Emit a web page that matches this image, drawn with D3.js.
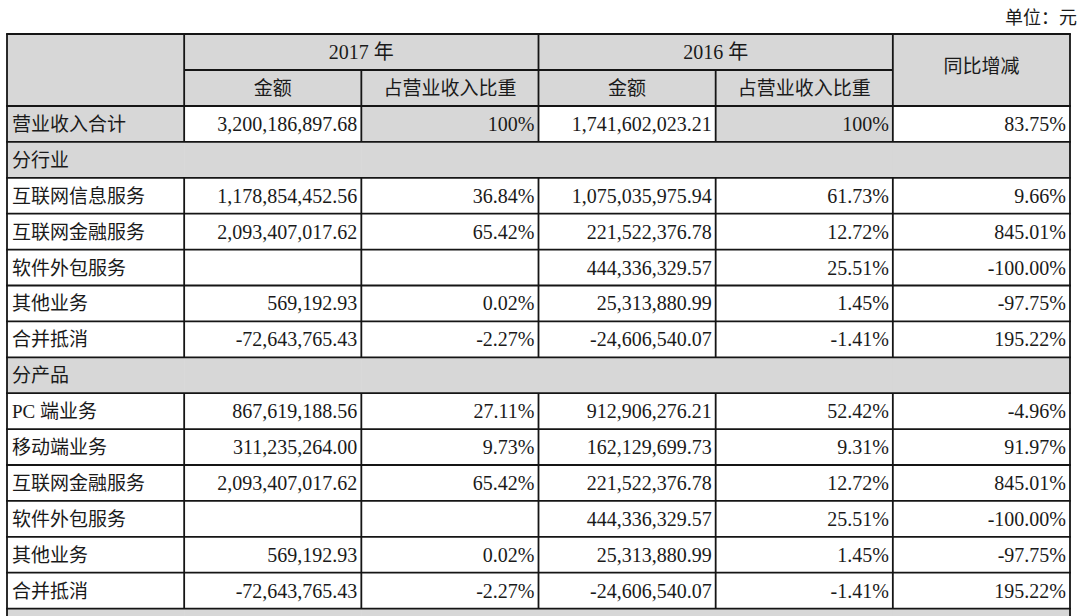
<!DOCTYPE html>
<html><head><meta charset="utf-8">
<script src="https://cdn.jsdelivr.net/npm/d3@7"></script>
<style>
html,body{margin:0;padding:0;background:#fff;}
svg{display:block;}
text{fill:#1a1a1a;}
</style></head>
<body>
<svg id="c" width="1080" height="616"></svg>
<script>
// ---- data ----
const unitLabel = "单位：元";
const yearLabels = ["2017 年", "2016 年"];
const subHeaders = ["金额", "占营业收入比重"];
const yoyHeader = "同比增减";
// row type: total / section / item / tail
const rowLabels = ["营业收入合计","分行业","互联网信息服务","互联网金融服务","软件外包服务","其他业务","合并抵消","分产品","PC 端业务","移动端业务","互联网金融服务","软件外包服务","其他业务","合并抵消",""];
const rowTypes  = ["total","section","item","item","item","item","item","section","item","item","item","item","item","item","tail"];
const amount2017 = [3200186897.68,null,1178854452.56,2093407017.62,null,569192.93,-72643765.43,null,867619188.56,311235264.00,2093407017.62,null,569192.93,-72643765.43,null];
const share2017  = [100,null,36.84,65.42,null,0.02,-2.27,null,27.11,9.73,65.42,null,0.02,-2.27,null];
const amount2016 = [1741602023.21,null,1075035975.94,221522376.78,444336329.57,25313880.99,-24606540.07,null,912906276.21,162129699.73,221522376.78,444336329.57,25313880.99,-24606540.07,null];
const share2016  = [100,null,61.73,12.72,25.51,1.45,-1.41,null,52.42,9.31,12.72,25.51,1.45,-1.41,null];
const yoyChange  = [83.75,null,9.66,845.01,-100.00,-97.75,195.22,null,-4.96,91.97,845.01,-100.00,-97.75,195.22,null];

// ---- formatting ----
const loc = d3.formatLocale({decimal:".", thousands:",", grouping:[3], currency:["",""], minus:"-"});
const fAmt = loc.format(",.2f");
const fPct2 = loc.format(".2f");
const fShare = v => v === 100 ? "100%" : fPct2(v) + "%";
const fYoy = v => fPct2(v) + "%";

// ---- layout ----
const svg = d3.select("#c");
const GRAY = "#d7d7d7", LINE = "#151515", LW = 1.8;
const SERIF = "'Liberation Serif','Times New Roman','Noto Sans CJK SC',serif";
const cols = d3.range(6);
const x = d3.scaleBand().domain(cols).range([7, 1070]);
const headerTop = 34, headerRowH = 36;
const bodyTop = headerTop + 2 * headerRowH;
const y = d3.scaleBand().domain(d3.range(rowLabels.length)).range([bodyTop, bodyTop + rowLabels.length * 35.9]);
const left = x(0), right = x(5) + x.bandwidth();

const gFill = svg.append("g");
const gLine = svg.append("g");
const gText = svg.append("g").attr("font-family", SERIF);

// header fill
gFill.append("rect").attr("x", left).attr("y", headerTop).attr("width", right - left).attr("height", 2 * headerRowH).attr("fill", GRAY);

// body fills
const cellValues = [null, amount2017, share2017, amount2016, share2016, yoyChange];
rowLabels.forEach((lab, i) => {
  const t = rowTypes[i];
  cols.forEach(c => {
    let fill = "#fff";
    if (t === "section" || t === "tail") fill = GRAY;
    else if (t === "total") fill = (c === 0 || c === 2 || c === 4) ? GRAY : "#fff";
    gFill.append("rect").attr("x", x(c)).attr("y", y(i)).attr("width", x.bandwidth() + 0.5).attr("height", y.bandwidth() + 0.5).attr("fill", fill);
  });
});

function hline(x1, x2, yy) { gLine.append("line").attr("x1", x1).attr("x2", x2).attr("y1", yy).attr("y2", yy).attr("stroke", LINE).attr("stroke-width", LW); }
function vline(xx, y1, y2) { gLine.append("line").attr("x1", xx).attr("x2", xx).attr("y1", y1).attr("y2", y2).attr("stroke", LINE).attr("stroke-width", LW); }

// header lines
hline(left - LW/2, right + LW/2, headerTop);
hline(x(1), x(5), headerTop + headerRowH);
vline(x(1), headerTop, bodyTop);
vline(x(3), headerTop, bodyTop);
vline(x(5), headerTop, bodyTop);
vline(x(2), headerTop + headerRowH, bodyTop);
vline(x(4), headerTop + headerRowH, bodyTop);

// body lines
const lastIdx = rowLabels.length - 1;
rowLabels.forEach((lab, i) => {
  hline(left - LW/2, right + LW/2, y(i));
  const t = rowTypes[i];
  if (t === "total" || t === "item") {
    cols.slice(1).forEach(c => vline(x(c), y(i), y(i) + y.bandwidth()));
  }
});
vline(left, headerTop, 616);
vline(right, headerTop, 616);

// unit label
gText.append("text").attr("x", 1077).attr("y", 24).attr("text-anchor", "end").attr("font-size", 18).text(unitLabel);

// header text
const midY1 = headerTop + headerRowH / 2, midY2 = headerTop + 1.5 * headerRowH;
yearLabels.forEach((yl, k) => {
  const c0 = 1 + 2 * k;
  gText.append("text").attr("x", x(c0) + x.bandwidth()).attr("y", midY1 + 7).attr("text-anchor", "middle").attr("font-size", 20).text(yl);
  subHeaders.forEach((sh, j) => {
    gText.append("text").attr("x", x(c0 + j) + x.bandwidth() / 2).attr("y", midY2 + 7).attr("text-anchor", "middle").attr("font-size", 19).text(sh);
  });
});
gText.append("text").attr("x", x(5) + x.bandwidth() / 2).attr("y", headerTop + headerRowH + 3).attr("text-anchor", "middle").attr("font-size", 19).text(yoyHeader);

// body text
const fmts = [null, fAmt, fShare, fAmt, fShare, fYoy];
rowLabels.forEach((lab, i) => {
  const cy = y(i) + y.bandwidth() / 2 + 7;
  if (lab) gText.append("text").attr("x", left + 5).attr("y", cy).attr("font-size", 19).text(lab);
  cols.slice(1).forEach(c => {
    const v = cellValues[c][i];
    if (v === null || v === undefined) return;
    gText.append("text").attr("x", x(c) + x.bandwidth() - 4).attr("y", cy).attr("text-anchor", "end").attr("font-size", 20).text(fmts[c](v));
  });
});
</script>
</body></html>
